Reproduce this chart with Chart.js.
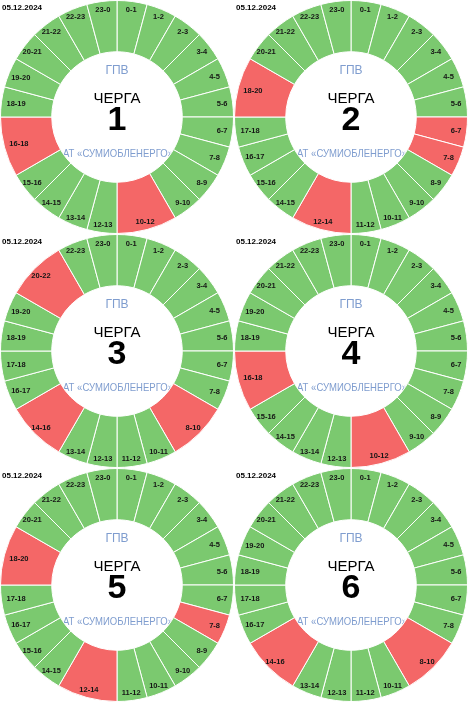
<!DOCTYPE html>
<html>
<head>
<meta charset="utf-8">
<script src="https://cdn.jsdelivr.net/npm/chart.js@4.4.1/dist/chart.umd.min.js"></script>
<style>
  html, body { margin: 0; padding: 0; background: #fff; }
  #grid { display: grid; grid-template-columns: 234px 234px; grid-auto-rows: 234px; width: 468px; }
  .cell { position: relative; width: 234px; height: 234px; }
</style>
</head>
<body>
<div id="grid"></div>
<script>
const dateText = '05.12.2024';
const titleTop = 'ГПВ';
const titleMid = 'ЧЕРГА';
const titleBottom = 'АТ «СУМИОБЛЕНЕРГО»';
const queueNumbers = ['1', '2', '3', '4', '5', '6'];

const labels1 = ['0-1','1-2','2-3','3-4','4-5','5-6','6-7','7-8','8-9','9-10','10-12','12-13','13-14','14-15','15-16','16-18','18-19','19-20','20-21','21-22','22-23','23-0'];
const hours1  = [1,1,1,1,1,1,1,1,1,1,2,1,1,1,1,2,1,1,1,1,1,1];
const off1    = [0,0,0,0,0,0,0,0,0,0,1,0,0,0,0,1,0,0,0,0,0,0];

const labels2 = ['0-1','1-2','2-3','3-4','4-5','5-6','6-7','7-8','8-9','9-10','10-11','11-12','12-14','14-15','15-16','16-17','17-18','18-20','20-21','21-22','22-23','23-0'];
const hours2  = [1,1,1,1,1,1,1,1,1,1,1,1,2,1,1,1,1,2,1,1,1,1];
const off2    = [0,0,0,0,0,0,1,1,0,0,0,0,1,0,0,0,0,1,0,0,0,0];

const labels3 = ['0-1','1-2','2-3','3-4','4-5','5-6','6-7','7-8','8-10','10-11','11-12','12-13','13-14','14-16','16-17','17-18','18-19','19-20','20-22','22-23','23-0'];
const hours3  = [1,1,1,1,1,1,1,1,2,1,1,1,1,2,1,1,1,1,2,1,1];
const off3    = [0,0,0,0,0,0,0,0,1,0,0,0,0,1,0,0,0,0,1,0,0];

const labels4 = ['0-1','1-2','2-3','3-4','4-5','5-6','6-7','7-8','8-9','9-10','10-12','12-13','13-14','14-15','15-16','16-18','18-19','19-20','20-21','21-22','22-23','23-0'];
const hours4  = [1,1,1,1,1,1,1,1,1,1,2,1,1,1,1,2,1,1,1,1,1,1];
const off4    = [0,0,0,0,0,0,0,0,0,0,1,0,0,0,0,1,0,0,0,0,0,0];

const labels5 = ['0-1','1-2','2-3','3-4','4-5','5-6','6-7','7-8','8-9','9-10','10-11','11-12','12-14','14-15','15-16','16-17','17-18','18-20','20-21','21-22','22-23','23-0'];
const hours5  = [1,1,1,1,1,1,1,1,1,1,1,1,2,1,1,1,1,2,1,1,1,1];
const off5    = [0,0,0,0,0,0,0,1,0,0,0,0,1,0,0,0,0,1,0,0,0,0];

const labels6 = ['0-1','1-2','2-3','3-4','4-5','5-6','6-7','7-8','8-10','10-11','11-12','12-13','13-14','14-16','16-17','17-18','18-19','19-20','20-21','21-22','22-23','23-0'];
const hours6  = [1,1,1,1,1,1,1,1,2,1,1,1,1,2,1,1,1,1,1,1,1,1];
const off6    = [0,0,0,0,0,0,0,0,1,0,0,0,0,1,0,0,0,0,0,0,0,0];

const allLabels = [labels1, labels2, labels3, labels4, labels5, labels6];
const allHours  = [hours1, hours2, hours3, hours4, hours5, hours6];
const allOff    = [off1, off2, off3, off4, off5, off6];

const GREEN = '#7bc96f';
const RED = '#f46767';
const BLUE = '#7f9dcf';
const FONT = '"Liberation Sans", Arial, sans-serif';

const textPlugin = {
  id: 'centerText',
  beforeDatasetsDraw(chart) {
    const ctx = chart.ctx;
    const arc = chart.getDatasetMeta(0).data[0];
    const cx = arc.x, cy = arc.y;
    ctx.save();
    ctx.textAlign = 'center';
    ctx.textBaseline = 'alphabetic';
    ctx.fillStyle = BLUE;
    ctx.font = '12px ' + FONT;
    ctx.fillText(titleTop, cx, cy - 43);
    ctx.fillStyle = '#000';
    ctx.font = '15px ' + FONT;
    ctx.fillText(titleMid, cx, cy - 14.5);
    ctx.font = 'bold 34px ' + FONT;
    ctx.fillText(chart.options.plugins.centerText.num, cx, cy + 13);
    ctx.fillStyle = BLUE;
    ctx.font = '10.5px ' + FONT;
    ctx.fillText(titleBottom, cx + 1, cy + 39.5, 110);
    ctx.restore();
  },
  afterDraw(chart) {
    const ctx = chart.ctx;
    const meta = chart.getDatasetMeta(0);
    const labels = chart.data.labels;
    ctx.save();
    ctx.font = 'bold 7.5px ' + FONT;
    ctx.fillStyle = '#151515';
    ctx.textAlign = 'center';
    ctx.textBaseline = 'middle';
    const h = 5.6;
    meta.data.forEach((el, i) => {
      const p = el.getProps(['x','y','startAngle','endAngle','outerRadius']);
      const mid = (p.startAngle + p.endAngle) / 2;
      const dx = Math.cos(mid), dy = Math.sin(mid);
      const r = p.outerRadius - 5;
      const ax = p.x + dx * r, ay = p.y + dy * r;
      const w = ctx.measureText(labels[i]).width;
      const tx = Math.abs(dx) > 1e-6 ? (w / 2) / Math.abs(dx) : Infinity;
      const ty = Math.abs(dy) > 1e-6 ? (h / 2) / Math.abs(dy) : Infinity;
      const t = Math.min(tx, ty);
      ctx.fillText(labels[i], ax - dx * t, ay - dy * t + 0.5);
    });
    ctx.fillStyle = '#000';
    ctx.textAlign = 'left';
    ctx.font = 'bold 8px ' + FONT;
    ctx.fillText(dateText, 2, 8);
    ctx.restore();
  }
};

const grid = document.getElementById('grid');
for (let k = 0; k < 6; k++) {
  const cell = document.createElement('div');
  cell.className = 'cell';
  const cv = document.createElement('canvas');
  cell.appendChild(cv);
  grid.appendChild(cell);
  new Chart(cv, {
    type: 'doughnut',
    data: {
      labels: allLabels[k],
      datasets: [{
        data: allHours[k],
        backgroundColor: allOff[k].map(v => v ? RED : GREEN),
        borderColor: '#ffffff',
        borderWidth: 1
      }]
    },
    options: {
      responsive: true,
      maintainAspectRatio: false,
      animation: false,
      cutout: '56%',
      layout: { padding: 0 },
      plugins: {
        legend: { display: false },
        tooltip: { enabled: false },
        centerText: { num: queueNumbers[k] }
      }
    },
    plugins: [textPlugin]
  });
}
</script>
</body>
</html>
